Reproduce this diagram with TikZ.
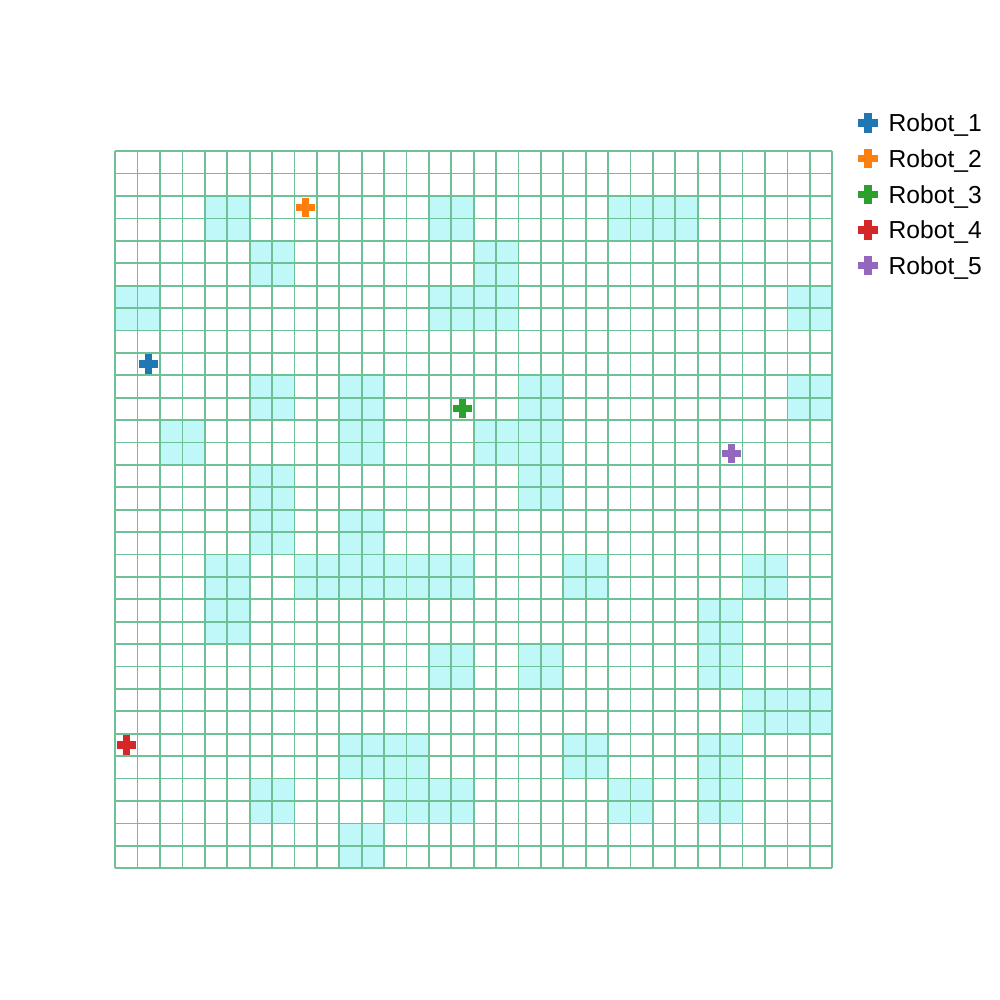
\documentclass[tikz,border=0pt]{standalone}
\usepackage{fontspec}
\setmainfont{Liberation Sans}
\usepackage{xcolor}
\usepackage{tikz}
\usetikzlibrary{positioning,shapes.misc}

\definecolor{robotA}{HTML}{1F77B4}
\definecolor{robotB}{HTML}{FF7F0E}
\definecolor{robotC}{HTML}{2CA02C}
\definecolor{robotD}{HTML}{D62728}
\definecolor{robotE}{HTML}{9467BD}
\definecolor{gridgreen}{RGB}{110,192,150}
\definecolor{obstaclecyan}{RGB}{192,248,250}

\begin{document}
\begin{tikzpicture}[
    robot/.style={cross out, rotate=45, draw=#1, line width=0.072cm,
                  minimum size=0.136cm, inner sep=0pt, outer sep=0pt},
    legtext/.style={anchor=base west, inner sep=0pt,
                    font=\fontsize{7}{8}\selectfont},
    gridline/.style={draw=gridgreen, line width=0.5pt},
    obstacle/.style={fill=obstaclecyan}
  ]
    \useasboundingbox[fill=white] (0,0) rectangle (10,-10);

    \begin{scope}[shift={(1.152,-1.512)}, x=0.22406cm, y=-0.22406cm]
      % obstacle cells
      \foreach \c/\r/\w/\h in {4/2/2/2, 14/2/2/2, 22/2/4/2, 6/4/2/2, 16/4/2/4,
          14/6/2/2, 0/6/2/2, 30/6/2/2, 6/10/2/2, 10/10/2/4, 2/12/2/2,
          18/10/2/6, 16/12/2/2, 30/10/2/2, 6/14/2/4, 10/16/2/2, 8/18/8/2,
          4/18/2/4, 20/18/2/2, 28/18/2/2, 26/20/2/4, 14/22/2/2, 18/22/2/2,
          28/24/4/2, 10/26/4/2, 12/28/4/2, 20/26/2/2, 26/26/2/4, 6/28/2/2,
          22/28/2/2, 10/30/2/2}
        \fill[obstacle] (\c,\r) rectangle ++(\w,\h);

      % grid
      \foreach \i in {0,...,32} {
        \draw[gridline] (\i,0) -- (\i,32);
        \draw[gridline] (0,\i) -- (32,\i);
      }

      % robots
      \node[robot=robotA] (r1) at (1.5,9.5) {};
      \node[robot=robotB] (r2) at (8.5,2.5) {};
      \node[robot=robotC] (r3) at (15.5,11.5) {};
      \node[robot=robotD] (r4) at (0.5,26.5) {};
      \node[robot=robotE] (r5) at (27.5,13.5) {};
    \end{scope}

    % legend
    \node[robot=robotA] (lm1) at (8.68,-1.23) {};
    \node[robot=robotB, below=0.357cm of lm1.center, anchor=center] (lm2) {};
    \node[robot=robotC, below=0.357cm of lm2.center, anchor=center] (lm3) {};
    \node[robot=robotD, below=0.357cm of lm3.center, anchor=center] (lm4) {};
    \node[robot=robotE, below=0.357cm of lm4.center, anchor=center] (lm5) {};
    \node[legtext] (lt1) at ([xshift=0.2cm, yshift=-0.087cm]lm1.center) {Robot\_1};
    \node[legtext] (lt2) at ([xshift=0.2cm, yshift=-0.087cm]lm2.center) {Robot\_2};
    \node[legtext] (lt3) at ([xshift=0.2cm, yshift=-0.087cm]lm3.center) {Robot\_3};
    \node[legtext] (lt4) at ([xshift=0.2cm, yshift=-0.087cm]lm4.center) {Robot\_4};
    \node[legtext] (lt5) at ([xshift=0.2cm, yshift=-0.087cm]lm5.center) {Robot\_5};
\end{tikzpicture}
\end{document}
